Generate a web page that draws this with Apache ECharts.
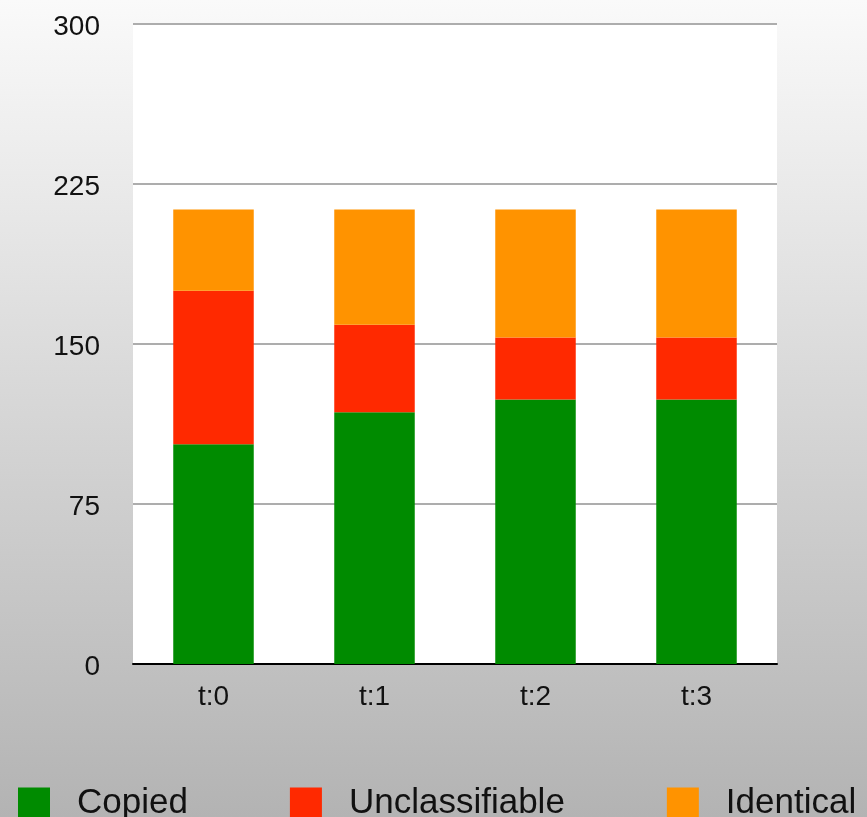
<!DOCTYPE html>
<html>
<head>
<meta charset="utf-8">
<style>
  html, body { margin: 0; padding: 0; }
  #chart { width: 867px; height: 817px; }
</style>
<script src="https://cdn.jsdelivr.net/npm/echarts@6/dist/echarts.min.js"></script>
</head>
<body>
<div id="chart"></div>
<script>
// Categories and stacked series values
const categories = ['t:0', 't:1', 't:2', 't:3'];
const copied = [103, 118, 124, 124];
const unclassifiable = [72, 41, 29, 29];
const identical = [38, 54, 60, 60];
const yTicks = [0, 75, 150, 225, 300];

const colors = { copied: '#008b00', unclassifiable: '#ff2900', identical: '#ff9300' };
const font = '"Liberation Sans", Arial, Helvetica, sans-serif';

const chart = echarts.init(document.getElementById('chart'), null, { renderer: 'canvas' });

function barSeries(name, data, color) {
  return {
    name: name,
    type: 'bar',
    stack: 'total',
    barWidth: '50%',
    data: data,
    itemStyle: { color: color },
    emphasis: { disabled: true }
  };
}

chart.setOption({
  animation: false,
  backgroundColor: {
    type: 'linear', x: 0, y: 0, x2: 0, y2: 1,
    colorStops: [
      { offset: 0, color: '#fafafa' },
      { offset: 1, color: '#b3b3b3' }
    ]
  },
  textStyle: { fontFamily: font },
  grid: {
    left: 133, right: 90, top: 24, bottom: 153,
    show: true, backgroundColor: '#ffffff', borderWidth: 0
  },
  legend: {
    left: 13,
    top: 781,
    icon: 'rect',
    itemWidth: 32,
    itemHeight: 32,
    itemGap: 102,
    selectedMode: false,
    textStyle: { fontSize: 35, color: '#111111', fontFamily: font, padding: [0, 0, 0, 22] },
    data: ['Copied', 'Unclassifiable', 'Identical']
  },
  xAxis: {
    type: 'category',
    data: categories,
    axisLine: { lineStyle: { color: '#000000', width: 2 } },
    axisTick: { show: false },
    axisLabel: { fontSize: 28, color: '#111111', margin: 19, fontFamily: font }
  },
  yAxis: {
    type: 'value',
    min: yTicks[0],
    max: yTicks[yTicks.length - 1],
    interval: yTicks[1] - yTicks[0],
    axisLine: { show: false },
    axisTick: { show: false },
    axisLabel: {
      margin: 33,
      formatter: '{v|{value}}',
      rich: {
        v: { fontSize: 28, color: '#111111', fontFamily: font, padding: [7, 0, 0, 0] }
      }
    },
    splitLine: { lineStyle: { color: '#adadad', width: 2 } }
  },
  series: [
    barSeries('Copied', copied, colors.copied),
    barSeries('Unclassifiable', unclassifiable, colors.unclassifiable),
    barSeries('Identical', identical, colors.identical)
  ]
});
</script>
</body>
</html>
